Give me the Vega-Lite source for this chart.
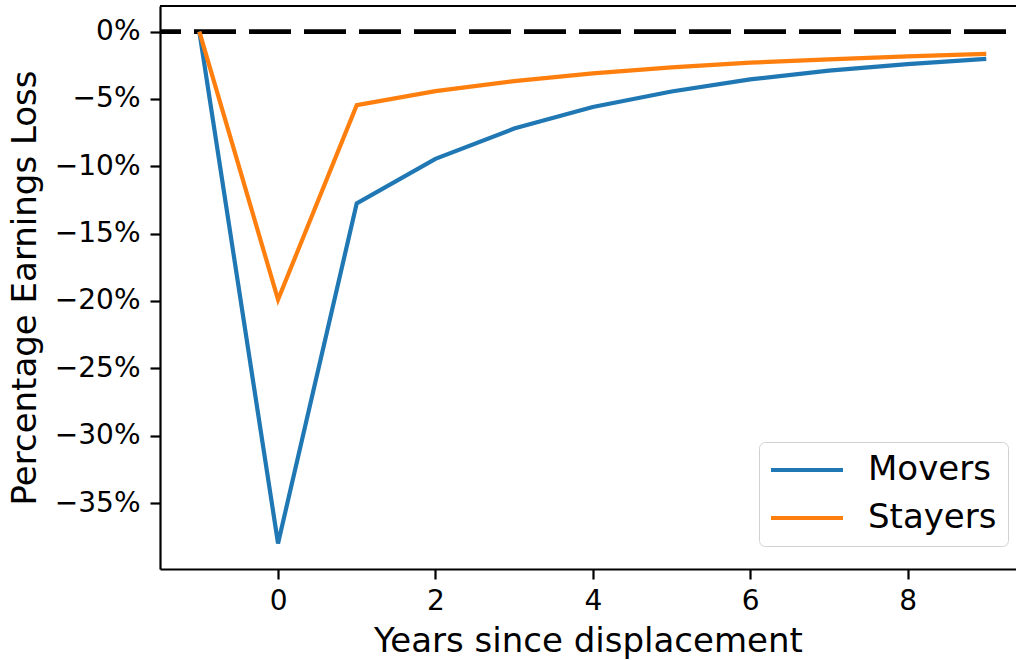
{
  "$schema": "https://vega.github.io/schema/vega-lite/v6.json",
  "autosize": "none",
  "width": 856,
  "height": 563,
  "padding": {"left": 160, "top": 6, "right": 0, "bottom": 91},
  "background": "white",
  "config": {
    "view": {"stroke": null},
    "font": "DejaVu Sans",
    "axis": {
      "grid": false,
      "domainColor": "black",
      "domainWidth": 2.2,
      "tickColor": "black",
      "tickWidth": 2.2,
      "tickSize": 10,
      "labelColor": "black",
      "labelFont": "DejaVu Sans",
      "labelFontSize": 28,
      "titleFont": "DejaVu Sans",
      "titleFontSize": 34,
      "titleFontWeight": "normal",
      "titleColor": "black"
    },
    "legend": {
      "labelFont": "DejaVu Sans",
      "labelFontSize": 34,
      "labelColor": "black"
    }
  },
  "datasets": {
    "series": [
      {"year": -1, "group": "Movers", "loss": 0},
      {"year": 0, "group": "Movers", "loss": -38},
      {"year": 1, "group": "Movers", "loss": -12.75},
      {"year": 2, "group": "Movers", "loss": -9.45},
      {"year": 3, "group": "Movers", "loss": -7.2},
      {"year": 4, "group": "Movers", "loss": -5.6},
      {"year": 5, "group": "Movers", "loss": -4.45},
      {"year": 6, "group": "Movers", "loss": -3.55},
      {"year": 7, "group": "Movers", "loss": -2.9},
      {"year": 8, "group": "Movers", "loss": -2.42},
      {"year": 9, "group": "Movers", "loss": -2.03},
      {"year": -1, "group": "Stayers", "loss": 0},
      {"year": 0, "group": "Stayers", "loss": -19.9},
      {"year": 1, "group": "Stayers", "loss": -5.46},
      {"year": 2, "group": "Stayers", "loss": -4.42},
      {"year": 3, "group": "Stayers", "loss": -3.68},
      {"year": 4, "group": "Stayers", "loss": -3.1},
      {"year": 5, "group": "Stayers", "loss": -2.65},
      {"year": 6, "group": "Stayers", "loss": -2.31},
      {"year": 7, "group": "Stayers", "loss": -2.06},
      {"year": 8, "group": "Stayers", "loss": -1.84},
      {"year": 9, "group": "Stayers", "loss": -1.66}
    ],
    "refs": [{"kind": "frame", "level": 1.9}, {"kind": "zero", "level": 0}]
  },
  "layer": [
    {
      "data": {"name": "refs"},
      "transform": [{"filter": "datum.kind === 'frame'"}],
      "mark": {"type": "rule", "color": "black", "strokeWidth": 2.2},
      "encoding": {
        "y": {"field": "level", "type": "quantitative", "scale": {"domain": [-39.9, 1.9], "nice": false, "zero": false}}
      }
    },
    {
      "data": {"name": "refs"},
      "transform": [{"filter": "datum.kind === 'zero'"}],
      "mark": {"type": "rule", "color": "black", "strokeWidth": 4.8, "strokeDash": [42, 13], "strokeDashOffset": 45},
      "encoding": {
        "y": {"field": "level", "type": "quantitative"}
      }
    },
    {
      "data": {"name": "series"},
      "mark": {"type": "line", "strokeWidth": 4.2},
      "encoding": {
        "x": {
          "field": "year",
          "type": "quantitative",
          "scale": {"domain": [-1.5, 9.378], "nice": false, "zero": false},
          "axis": {"values": [0, 2, 4, 6, 8], "format": "d", "labelPadding": 8, "title": "Years since displacement", "titlePadding": 9}
        },
        "y": {
          "field": "loss",
          "type": "quantitative",
          "scale": {"domain": [-39.9, 1.9], "nice": false, "zero": false},
          "axis": {"values": [0, -5, -10, -15, -20, -25, -30, -35], "labelExpr": "format(datum.value, 'd') + '%'", "labelPadding": 10, "title": "Percentage Earnings Loss", "titlePadding": 12}
        },
        "color": {
          "field": "group",
          "type": "nominal",
          "scale": {"domain": ["Movers", "Stayers"], "range": ["#1f77b4", "#ff7f0e"]},
          "legend": {
            "title": null,
            "orient": "none",
            "legendX": 599,
            "legendY": 436,
            "symbolType": "M-3,0L3,0",
            "symbolSize": 576,
            "symbolStrokeWidth": 4.2,
            "symbolOffset": 20,
            "labelOffset": 44,
            "rowPadding": 14,
            "padding": 11,
            "cornerRadius": 6,
            "strokeColor": "#d0d0d0",
            "fillColor": "rgba(255,255,255,0.8)"
          }
        }
      }
    }
  ]
}
